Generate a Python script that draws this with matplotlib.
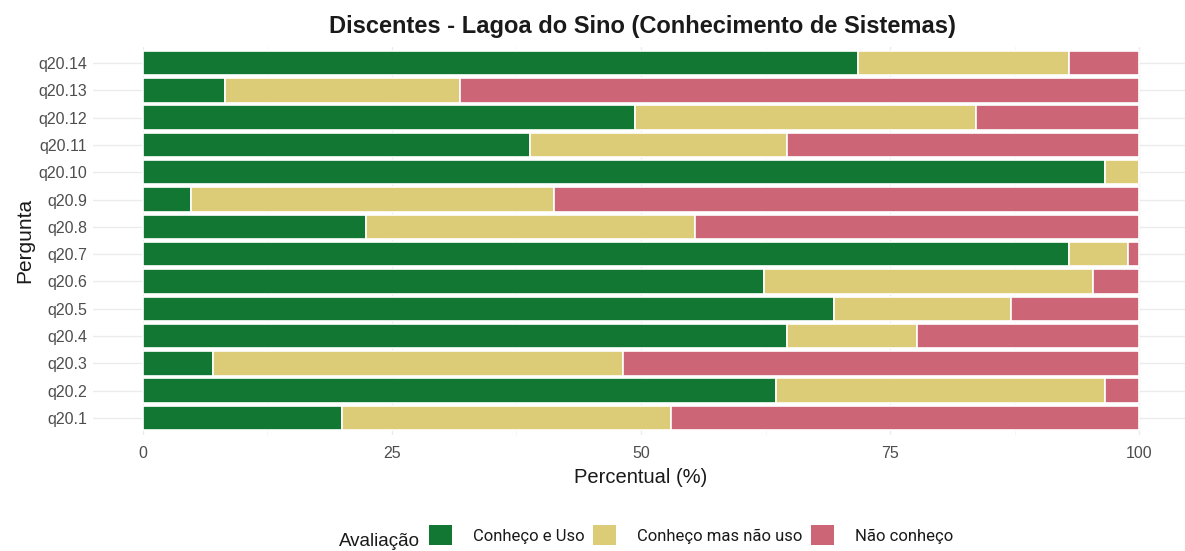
import matplotlib
matplotlib.use("Agg")
import matplotlib.pyplot as plt
from matplotlib.patches import Patch
import numpy as np

plt.rcParams['font.family'] = ['Liberation Sans', 'DejaVu Sans']

# Percent of answers per question, by category
perguntas = ["q20.1", "q20.2", "q20.3", "q20.4", "q20.5", "q20.6", "q20.7",
             "q20.8", "q20.9", "q20.10", "q20.11", "q20.12", "q20.13", "q20.14"]
conheco_uso = [20.0, 63.5, 7.0, 64.7, 69.4, 62.3, 93.0,
               22.4, 4.8, 96.6, 38.9, 49.4, 8.2, 71.8]
conheco_nao_uso = [33.0, 33.1, 41.2, 13.0, 17.7, 33.1, 5.9,
                   33.0, 36.5, 3.4, 25.8, 34.2, 23.6, 21.2]
nao_conheco = [47.0, 3.4, 51.8, 22.3, 12.9, 4.6, 1.1,
               44.6, 58.7, 0.0, 35.3, 16.4, 68.2, 7.0]

categorias = ["Conheço e Uso", "Conheço mas não uso", "Não conheço"]
cores = ["#117733", "#DDCC77", "#CC6677"]
xticks = [0, 25, 50, 75, 100]

W, H = 1185, 551
fig = plt.figure(figsize=(W / 100, H / 100), dpi=100)
fig.patch.set_facecolor("white")

# panel placement in pixels
left_px, right_px = 93, 1189
top_px, bottom_px = 46.5, 434.5
ax = fig.add_axes([left_px / W, 1 - bottom_px / H,
                   (right_px - left_px) / W, (bottom_px - top_px) / H])

y = np.arange(1, len(perguntas) + 1)
series = [conheco_uso, conheco_nao_uso, nao_conheco]
base = np.zeros(len(perguntas))
for vals, cor, nome in zip(series, cores, categorias):
    vals = np.array(vals)
    ax.barh(y, vals, left=base, height=0.9, color=cor, edgecolor="white",
            linewidth=1.2, label=nome, zorder=3)
    base = base + vals

ax.set_xlim(-5, 105)
ax.set_ylim(0.4, len(perguntas) + 0.6)
ax.set_yticks(y)
ax.set_yticklabels(perguntas)
ax.set_xticks(xticks)
ax.set_xticklabels([str(t) for t in xticks])
ax.set_xticks([12.5, 37.5, 62.5, 87.5], minor=True)

ax.grid(True, which="major", color="#EBEBEB", linewidth=1.0, zorder=0)
ax.grid(True, which="minor", axis="x", color="#F4F4F4", linewidth=0.6, zorder=0)
for s in ax.spines.values():
    s.set_visible(False)
ax.tick_params(axis="both", which="both", length=0, labelsize=11.5,
               labelcolor="#4D4D4D")
ax.tick_params(axis="x", pad=8)
ax.tick_params(axis="y", pad=4)

ax.set_xlabel("Percentual (%)", fontsize=14.5, labelpad=5, color="#1A1A1A")
ax.set_ylabel("Pergunta", fontsize=15, labelpad=3, color="#1A1A1A")

fig.text(0.542, 1 - 27 / H, "Discentes - Lagoa do Sino (Conhecimento de Sistemas)",
         ha="center", va="center", fontsize=17, fontweight="bold", color="#1A1A1A")

# legend along the bottom
fig.text(379 / W, 1 - 541 / H, "Avaliação", ha="center", va="center",
         fontsize=13.5, color="#1A1A1A")
handles = [Patch(facecolor=c, edgecolor="none") for c in cores]
leg = fig.legend(handles, categorias, loc="center left",
                 bbox_to_anchor=(414 / W, 1 - 535 / H), ncol=3, frameon=False,
                 prop={"family": ["Roboto", "DejaVu Sans"], "size": 12},
                 handlelength=1.38, handleheight=1.45,
                 handletextpad=1.26, columnspacing=0.5)
for t in leg.get_texts():
    t.set_color("#1A1A1A")

fig.savefig("out.png", dpi=100, facecolor="white")
